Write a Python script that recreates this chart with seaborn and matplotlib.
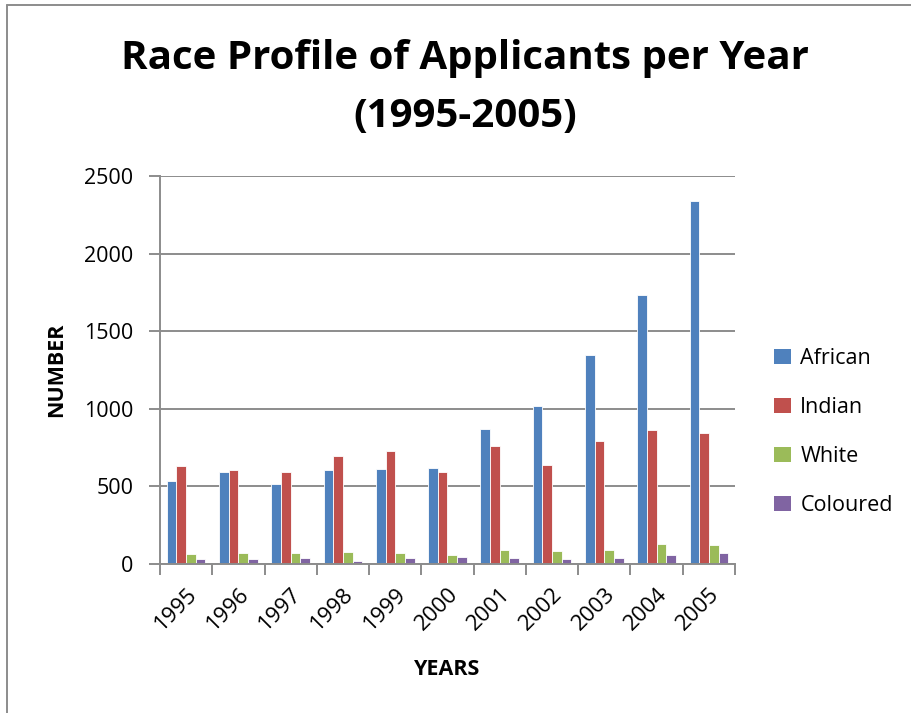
import matplotlib
matplotlib.use("Agg")
import matplotlib.pyplot as plt
import seaborn as sns
import pandas as pd
from matplotlib.lines import Line2D

years = ["1995", "1996", "1997", "1998", "1999", "2000", "2001", "2002", "2003", "2004", "2005"]
african = [533, 595, 516, 608, 611, 619, 873, 1019, 1344, 1735, 2337]
indian = [632, 608, 591, 699, 725, 591, 759, 639, 791, 866, 843]
white = [64, 71, 73, 75, 69, 60, 92, 86, 88, 127, 125]
coloured = [30, 34, 36, 21, 41, 43, 36, 32, 41, 60, 69]
series_names = ["African", "Indian", "White", "Coloured"]
colors = ["#4F81BD", "#C0504D", "#9BBB59", "#8064A2"]

rows = []
for name, vals in zip(series_names, [african, indian, white, coloured]):
    for y, v in zip(years, vals):
        rows.append({"Year": y, "Race": name, "Number": v})
df = pd.DataFrame(rows)

sns.set_style("white")
plt.rcParams["font.family"] = ["Open Sans", "DejaVu Sans"]
plt.rcParams["text.color"] = "black"
plt.rcParams["axes.labelcolor"] = "black"
plt.rcParams["xtick.color"] = "black"
plt.rcParams["ytick.color"] = "black"

fig = plt.figure(figsize=(9.12, 7.13), dpi=100)
ax = fig.add_axes([160 / 912, 1 - 564 / 713, (735 - 160) / 912, (564 - 176) / 713])

sns.barplot(data=df, x="Year", y="Number", hue="Race", order=years,
            hue_order=series_names, palette=colors, width=0.74, ax=ax,
            edgecolor="white", linewidth=0.6, saturation=1, errorbar=None)

ax.set_ylim(0, 2500)
ax.set_xlim(-0.5, len(years) - 0.5)
ax.set_yticks([0, 500, 1000, 1500, 2000, 2500])
ax.yaxis.grid(True, color="#8C8C8C", linewidth=1.4)
ax.set_axisbelow(True)
for s in ["top", "right"]:
    ax.spines[s].set_visible(False)
for s in ["left", "bottom"]:
    ax.spines[s].set_color("#8C8C8C")
    ax.spines[s].set_linewidth(1.4)

ax.tick_params(axis="y", which="major", length=8, width=1.4, color="#8C8C8C",
               labelcolor="black", labelsize=15.5, pad=11, left=True, direction="out")
ax.set_xticks([i - 0.5 for i in range(len(years) + 1)], minor=True)
ax.tick_params(axis="x", which="minor", length=8, width=1.4, color="#8C8C8C",
               bottom=True, direction="out")
ax.tick_params(axis="x", which="major", length=0, labelsize=16, pad=14, labelcolor="black")
for lbl in ax.get_xticklabels():
    lbl.set_rotation(45)
    lbl.set_ha("right")
    lbl.set_rotation_mode("anchor")

ax.set_xlabel("YEARS", fontsize=15.5, fontweight="bold", labelpad=18)
ax.set_ylabel("NUMBER", fontsize=15.5, fontweight="bold", labelpad=12)

fig.suptitle("Race Profile of Applicants per Year\n(1995-2005)", x=465 / 912, y=1 - 39 / 713,
             fontsize=29, fontweight="bold", va="top", linespacing=1.62, color="black")

leg = ax.legend(loc="center left", bbox_to_anchor=(1.035, 0.34), frameon=False,
                fontsize=15.5, handlelength=0.75, handleheight=0.75,
                labelspacing=1.3, handletextpad=0.45)
for h in leg.legend_handles:
    h.set_edgecolor("none")

fig.add_artist(Line2D([7 / 912, 7 / 912], [0, 1 - 5 / 713], color="#8C8C8C", lw=1.4))
fig.add_artist(Line2D([7 / 912, 1], [1 - 5 / 713, 1 - 5 / 713], color="#8C8C8C", lw=1.4))

fig.savefig("out.png", dpi=100)
